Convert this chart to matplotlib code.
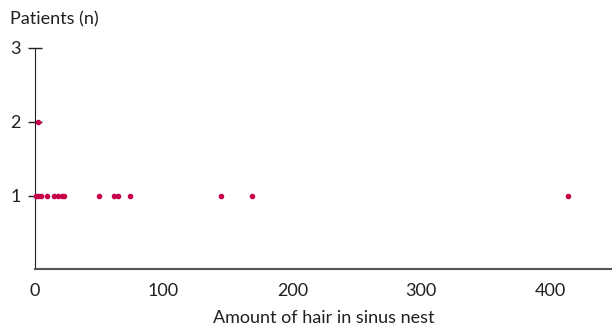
import matplotlib.pyplot as plt

plt.rcParams['font.family'] = ['Lato', 'DejaVu Sans']

# amount of hair per patient group (x) and number of patients (y)
hair_amount = [1, 3, 5, 10, 15, 18, 21, 23, 50, 62, 65, 74, 145, 169, 414, 3]
patients = [1, 1, 1, 1, 1, 1, 1, 1, 1, 1, 1, 1, 1, 1, 1, 2]

x_ticks = [0, 100, 200, 300, 400]
y_ticks = [1, 2, 3]

color = "#C8004B"
axis_color = "#231F20"

fig = plt.figure(figsize=(6.12, 3.31), dpi=100)
ax = fig.add_axes([0.0564, 0.186, 0.9436, 0.669])

ax.scatter(hair_amount, patients, s=9, color=color, zorder=3, clip_on=False)

ax.set_xlim(0, 448)
ax.set_ylim(0, 3)
ax.set_xticks(x_ticks)
ax.set_yticks(y_ticks)

ax.spines['top'].set_visible(False)
ax.spines['right'].set_visible(False)
ax.spines['left'].set_color(axis_color)
ax.spines['bottom'].set_color('#555555')
ax.spines['bottom'].set_linewidth(1.5)

ax.tick_params(axis='y', direction='inout', length=10, width=1, color=axis_color,
               labelsize=13, pad=5, labelcolor=axis_color)
ax.tick_params(axis='x', length=0, labelsize=13, pad=10, labelcolor=axis_color)

ax.set_xlabel('Amount of hair in sinus nest', fontsize=13, color=axis_color, labelpad=8)
fig.text(0.016, 0.94, 'Patients (n)', fontsize=13, color=axis_color, va='center')

fig.savefig('out.png', dpi=100)
